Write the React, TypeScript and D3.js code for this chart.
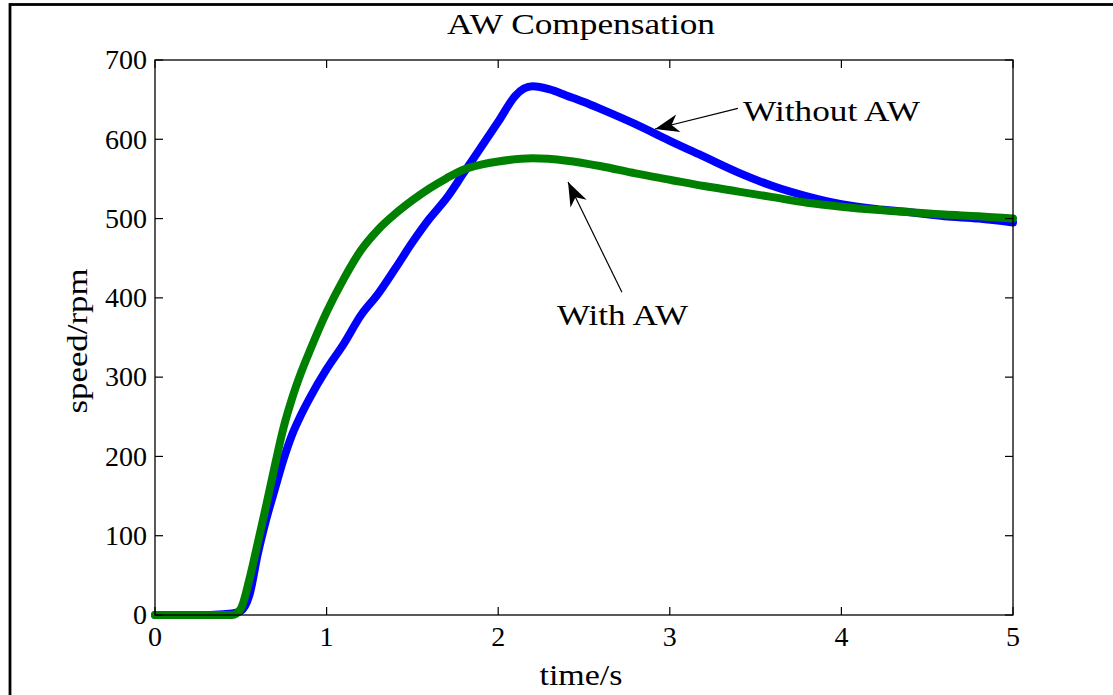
import * as d3 from 'd3'

// time axis samples (s) and speeds (rpm)
const blueT = [0, 0.1, 0.2, 0.3, 0.4, 0.45, 0.5, 0.55, 0.6, 0.65, 0.7, 0.75, 0.8, 0.85, 0.9, 1.0, 1.1, 1.2, 1.3, 1.4, 1.5, 1.6, 1.7, 1.8, 1.9, 2.0, 2.1, 2.15, 2.2, 2.3, 2.4, 2.5, 2.6, 2.8, 3.0, 3.2, 3.4, 3.6, 3.8, 4.0, 4.2, 4.4, 4.6, 4.8, 5.0]
const blueV = [0, 0, 0, 0, 1, 2, 5, 25, 78, 122, 160, 197, 228, 252, 273, 310, 342, 378, 405, 437, 470, 500, 526, 558, 590, 622, 655, 664, 667, 663, 655, 647, 638, 619, 598, 578, 558, 541, 528, 518, 512, 508, 503, 500, 495]

const greenT = [0, 0.1, 0.2, 0.3, 0.4, 0.45, 0.5, 0.55, 0.6, 0.65, 0.7, 0.75, 0.8, 0.85, 0.9, 1.0, 1.1, 1.2, 1.3, 1.4, 1.5, 1.6, 1.7, 1.8, 1.9, 2.0, 2.2, 2.4, 2.6, 2.8, 3.0, 3.2, 3.4, 3.6, 3.8, 4.0, 4.2, 4.4, 4.6, 4.8, 5.0]
const greenV = [0, 0, 0, 0, 0, 0, 8, 45, 92, 140, 190, 237, 274, 305, 332, 382, 424, 460, 486, 506, 523, 538, 551, 562, 568, 572, 576, 573, 566, 557, 549, 541, 534, 527, 520, 515, 511, 508, 505, 503, 500]

const xTicks = [0, 1, 2, 3, 4, 5]
const yTicks = [0, 100, 200, 300, 400, 500, 600, 700]

// annotations: text anchor (t, v), arrow tail, arrow tip
const notes = [
  { label: 'Without AW', text: [3.427, 623], anchor: 'start', len: 177, tail: [3.397, 639], tip: [2.914, 613] },
  { label: 'With AW', text: [2.724, 366], anchor: 'middle', len: 131, tail: [2.721, 407], tip: [2.407, 546] },
]

const W = 1113
const H = 695
const margin = { left: 155, top: 60, right: 100, bottom: 80 }
const FONT = '"Liberation Serif", "Times New Roman", serif'

export default function App() {
  const x = d3.scaleLinear().domain([0, 5]).range([margin.left, W - margin.right])
  const y = d3.scaleLinear().domain([0, 700]).range([H - margin.bottom, margin.top])
  const line = d3.line<[number, number]>()
    .x(d => x(d[0]))
    .y(d => y(d[1]))
    .curve(d3.curveMonotoneX)

  const blue = blueT.map((t, i) => [t, blueV[i]] as [number, number])
  const green = greenT.map((t, i) => [t, greenV[i]] as [number, number])

  const x0 = x.range()[0], x1 = x.range()[1]
  const y0 = y.range()[0], y1 = y.range()[1]
  const tk = 8

  const arrowHead = (tail: number[], tip: number[]) => {
    const tx = x(tip[0]), ty = y(tip[1])
    const ang = Math.atan2(y(tail[1]) - ty, x(tail[0]) - tx)
    const L = 24, hw = 9, notch = 17
    const p = (d: number, o: number) => [
      tx + d * Math.cos(ang) - o * Math.sin(ang),
      ty + d * Math.sin(ang) + o * Math.cos(ang),
    ].join(',')
    return [p(0, 0), p(L, hw), p(notch, 0), p(L, -hw)].join(' ')
  }

  return (
    <div style={{ position: 'absolute', left: 0, top: 0 }}>
      <svg width={W} height={H} style={{ display: 'block', background: '#fff' }} fontFamily={FONT}>
        <rect x={10} y={4.5} width={1300} height={900} fill="none" stroke="#000" strokeWidth={2.8} />

        <text x={581} y={34} fontSize={29} textAnchor="middle" textLength={268} lengthAdjust="spacingAndGlyphs">AW Compensation</text>

        <path d={line(blue) ?? ''} fill="none" stroke="#0000ff" strokeWidth={8} strokeLinejoin="round" strokeLinecap="round" />
        <path d={line(green) ?? ''} fill="none" stroke="#008000" strokeWidth={8} strokeLinejoin="round" strokeLinecap="round" />

        <rect x={x0} y={y1} width={x1 - x0} height={y0 - y1} fill="none" stroke="#000" strokeWidth={1.3} />

        {xTicks.map(t => (
          <g key={'x' + t}>
            <line x1={x(t)} x2={x(t)} y1={y0} y2={y0 - tk} stroke="#000" strokeWidth={1.2} />
            <line x1={x(t)} x2={x(t)} y1={y1} y2={y1 + tk} stroke="#000" strokeWidth={1.2} />
            <text x={x(t)} y={y0 + 31} fontSize={28} textAnchor="middle">{t}</text>
          </g>
        ))}
        {yTicks.map(v => (
          <g key={'y' + v}>
            <line x1={x0} x2={x0 + tk} y1={y(v)} y2={y(v)} stroke="#000" strokeWidth={1.2} />
            <line x1={x1} x2={x1 - tk} y1={y(v)} y2={y(v)} stroke="#000" strokeWidth={1.2} />
            <text x={x0 - 8} y={y(v)} dy="0.33em" fontSize={28} textAnchor="end">{v}</text>
          </g>
        ))}

        <text x={581} y={685} fontSize={29} textAnchor="middle" textLength={83} lengthAdjust="spacingAndGlyphs">time/s</text>
        <text transform={`translate(87,341) rotate(-90)`} fontSize={29} textAnchor="middle" textLength={145} lengthAdjust="spacingAndGlyphs">speed/rpm</text>

        {notes.map(n => (
          <g key={n.label}>
            <line x1={x(n.tail[0])} y1={y(n.tail[1])} x2={x(n.tip[0])} y2={y(n.tip[1])} stroke="#000" strokeWidth={1.2} />
            <polygon points={arrowHead(n.tail, n.tip)} fill="#000" />
            <text x={x(n.text[0])} y={y(n.text[1])} fontSize={29} textAnchor={n.anchor} textLength={n.len} lengthAdjust="spacingAndGlyphs">{n.label}</text>
          </g>
        ))}
      </svg>
    </div>
  )
}
